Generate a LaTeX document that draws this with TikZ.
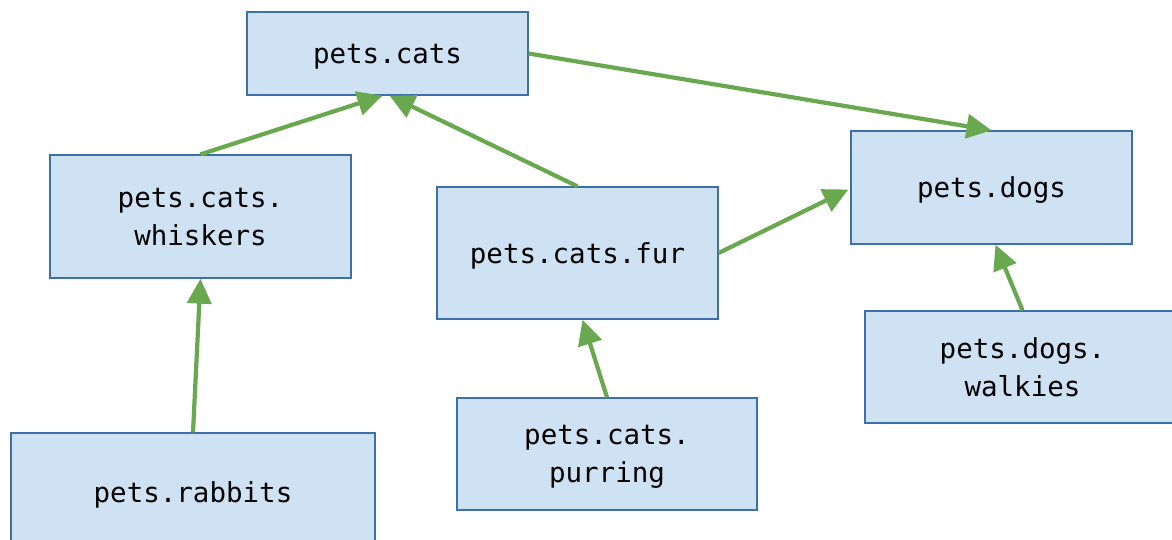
\documentclass[tikz,border=0pt]{standalone}
\usepackage{fontspec}
\setmonofont{DejaVu Sans Mono}
\usetikzlibrary{arrows.meta,calc}
\definecolor{boxfill}{HTML}{CFE2F3}
\definecolor{boxline}{HTML}{3D6FA8}
\definecolor{arrowgreen}{HTML}{6AA84F}
\begin{document}
\begin{tikzpicture}[x=1pt,y=-1pt,
  pkg/.style={draw=boxline,fill=boxfill,line width=1.3pt,inner sep=0pt,text depth=0pt,
    font=\ttfamily\fontsize{27.5}{38}\selectfont,align=center,anchor=center},
  dep/.style={draw=arrowgreen,line width=4.2pt,-{Triangle[length=25pt,width=24pt]}}]
\useasboundingbox (0,0) rectangle (1172,539);
\clip (0,0) rectangle (1172,539);
\node[pkg,minimum width=281pt,minimum height=83pt] (cats) at (387.5,53.5) {pets.cats};
\node[pkg,minimum width=301pt,minimum height=123pt] (whiskers) at (200.5,216.5) {pets.cats.\\whiskers};
\node[pkg,minimum width=281pt,minimum height=132pt] (fur) at (577.5,253) {pets.cats.fur};
\node[pkg,minimum width=281pt,minimum height=113pt] (dogs) at (991.5,187.5) {pets.dogs};
\node[pkg,minimum width=364pt,minimum height=130pt] (rabbits) at (193,498) {};
\node[font=\ttfamily\fontsize{27.5}{38}\selectfont,text depth=0pt] (rabbitstext) at (193,492) {pets.rabbits};
\node[pkg,minimum width=300pt,minimum height=112pt] (purring) at (607,454) {pets.cats.\\purring};
\node[pkg,minimum width=315pt,minimum height=112pt] (walkies) at (1022.5,367) {pets.dogs.\\walkies};
\draw[dep] (whiskers.north) -- ($(cats.south)+(-5,0)$);
\draw[dep] (fur.north) -- ($(cats.south)+(2,0)$);
\draw[dep] (cats.east) -- (dogs.north);
\draw[dep] (fur.east) -- ($(dogs.west)+(-2,2)$);
\draw[dep] (rabbits.north) -- (whiskers.south);
\draw[dep] (purring.north) -- ($(fur.south)+(5,0)$);
\draw[dep] (walkies.north) -- ($(dogs.south)+(4,0)$);
\end{tikzpicture}
\end{document}
